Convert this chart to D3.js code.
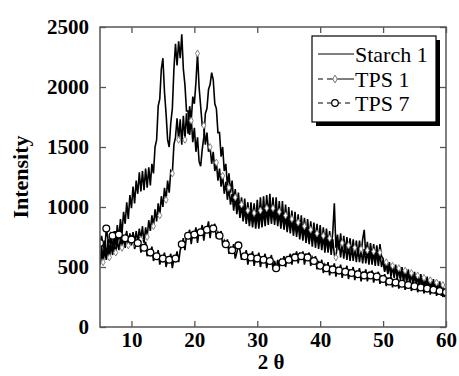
<!DOCTYPE html>
<html>
<head>
<meta charset="utf-8">
<script src="https://cdn.jsdelivr.net/npm/d3@7"></script>
<style>
  body { margin: 0; background: #fff; }
  text { font-family: "Liberation Serif", "Times New Roman", serif; }
</style>
</head>
<body>
<div id="chart"></div>
<script>
// scan: 2 theta from 5 to 60 deg, 0.25 deg step
const thetaStart = 5, thetaStep = 0.25;

const starch1 = [
  520, 680, 560, 720,  580, 730, 610, 760,  640, 800, 680, 850,  730, 900, 780, 960,
  860, 1040, 900, 1100,  990, 1170, 1030, 1220,  1110, 1290, 1130, 1300,  1140, 1320, 1160, 1330,
  1180, 1360, 1280, 1500,  1560, 1840, 1900, 2150,  2240, 1960, 1780, 1560,  1500, 1700, 1820, 2150,
  2360, 2180, 2380, 2240,  2440, 2150, 2020, 1800,  1800, 1600, 1740, 1540,  1660, 1460, 1580, 1380,
  1340, 1480, 1580, 1780,  1820, 1980, 2020, 2120,  2060, 1860, 1820, 1620,  1620, 1420, 1500, 1300,
  1360, 1180, 1280, 1120,  1220, 1040, 1150, 1000,  1120, 960, 1080, 920,  1070, 910, 1040, 880,
  1040, 880, 1030, 870,  1060, 880, 1080, 890,  1090, 900, 1100, 920,  1110, 910, 1080, 890,
  1080, 880, 1050, 860,  1050, 850, 1020, 830,  1000, 820, 970, 800,  960, 790, 940, 780,
  930, 770, 910, 750,  900, 740, 880, 730,  870, 720, 860, 700,  850, 690, 830, 680,
  820, 670, 800, 660,  790, 1030, 660, 770,  640, 780, 630, 760,  620, 750, 610, 740,
  600, 730, 600, 720,  590, 720, 600, 730,  810, 600, 710, 580,  700, 580, 690, 570,
  680, 560, 690, 590,  570, 470, 550, 450,  540, 440, 520, 430,  520, 420, 500, 410,
  500, 400, 480, 390,  480, 380, 460, 370,  460, 360, 440, 350,  440, 340, 420, 330,
  420, 320, 400, 310,  400, 300, 380, 290,  380, 280, 360, 270,  320
];

const tps1 = [
  520, 620, 540, 640,  560, 660, 580, 680,  600, 700, 620, 720,  640, 740, 660, 760,
  660, 770, 680, 780,  680, 790, 700, 800,  710, 820, 730, 840,  700, 830, 750, 890,
  800, 930, 840, 980,  880, 1030, 930, 1090,  1000, 1160, 1060, 1220,  1120, 1300, 1280, 1520,
  1580, 1740, 1560, 1730,  1520, 1760, 1560, 1780,  1610, 1840, 1720, 1920,  1860, 2040, 2280, 2000,
  1840, 1680, 1680, 1520,  1620, 1460, 1500, 1360,  1460, 1300, 1370, 1220,  1320, 1170, 1260, 1110,
  1210, 1060, 1160, 1020,  1110, 970, 1080, 940,  1040, 910, 1020, 880,  990, 860, 970, 840,
  960, 830, 950, 820,  950, 820, 970, 830,  980, 840, 990, 850,  1000, 860, 990, 850,
  980, 840, 960, 820,  950, 810, 930, 790,  910, 780, 900, 760,  880, 750, 870, 730,
  850, 720, 840, 700,  820, 690, 810, 670,  800, 660, 780, 650,  770, 640, 760, 620,
  750, 620, 740, 600,  730, 600, 580, 700,  710, 580, 700, 570,  690, 560, 680, 550,
  670, 550, 660, 540,  660, 540, 650, 530,  650, 530, 640, 520,  640, 520, 630, 510,
  630, 510, 620, 500,  560, 460, 540, 440,  520, 420, 510, 410,  500, 400, 490, 390,
  480, 380, 470, 370,  460, 360, 450, 350,  440, 340, 430, 330,  420, 320, 410, 310,
  400, 300, 390, 290,  380, 280, 370, 270,  360, 260, 350, 250,  290
];

const tps7 = [
  700, 760, 680, 640,  820, 740, 700, 780,  760, 690, 800, 700,  770, 820, 690, 740,
  740, 800, 670, 720,  730, 780, 650, 700,  700, 750, 620, 670,  660, 710, 590, 630,
  620, 670, 550, 600,  590, 640, 520, 570,  570, 620, 500, 560,  560, 610, 490, 570,
  570, 630, 540, 640,  690, 740, 640, 760,  760, 810, 690, 780,  770, 830, 700, 800,
  790, 850, 720, 820,  810, 880, 740, 840,  820, 860, 740, 790,  760, 800, 680, 720,
  690, 730, 610, 660,  640, 690, 570, 620,  680, 640, 560, 600,  590, 640, 520, 590,
  580, 630, 510, 580,  570, 620, 500, 570,  560, 610, 490, 560,  550, 600, 480, 550,
  490, 560, 500, 560,  540, 590, 500, 580,  560, 610, 520, 600,  580, 630, 530, 610,
  590, 630, 520, 600,  580, 620, 510, 580,  550, 590, 480, 550,  510, 560, 450, 520,
  490, 540, 430, 500,  480, 530, 420, 490,  470, 520, 410, 480,  460, 510, 400, 470,
  450, 500, 390, 460,  440, 490, 380, 450,  430, 480, 380, 440,  430, 470, 370, 430,
  420, 460, 360, 420,  400, 440, 340, 400,  380, 420, 330, 380,  370, 410, 320, 370,
  360, 400, 310, 360,  350, 390, 300, 350,  340, 380, 290, 340,  330, 370, 280, 330,
  320, 360, 270, 320,  310, 350, 260, 310,  300, 340, 250, 300,  290
];

const xTicks = [10, 20, 30, 40, 50, 60];
const yTicks = [0, 500, 1000, 1500, 2000, 2500];
const legendNames = ['Starch 1', 'TPS 1', 'TPS 7'];

const W = 459, H = 376;
const margin = {top: 27, right: 13, bottom: 49, left: 100};

const svg = d3.select('#chart').append('svg')
  .attr('width', W)
  .attr('height', H);

const x = d3.scaleLinear().domain([5, 60]).range([margin.left, W - margin.right]);
const y = d3.scaleLinear().domain([0, 2500]).range([H - margin.bottom, margin.top]);

const toPoints = arr => arr.map((v, i) => ({t: thetaStart + i * thetaStep, v: v, i: i}));

const line = d3.line().x(d => x(d.t)).y(d => y(d.v));

svg.append('clipPath').attr('id', 'clip')
  .append('rect')
  .attr('x', margin.left).attr('y', margin.top)
  .attr('width', W - margin.left - margin.right)
  .attr('height', H - margin.top - margin.bottom);

const series = svg.append('g').attr('clip-path', 'url(#clip)');

[starch1, tps1, tps7].forEach(arr => {
  series.append('path')
    .datum(toPoints(arr))
    .attr('d', line)
    .attr('fill', 'none')
    .attr('stroke', '#000')
    .attr('stroke-width', 1.6);
});

const diamond = d3.symbol().type(d3.symbolDiamond).size(14);

series.selectAll('.dia')
  .data(toPoints(tps1).filter(d => d.i % 4 === 2))
  .enter().append('path')
  .attr('class', 'dia')
  .attr('d', diamond)
  .attr('transform', d => `translate(${x(d.t)},${y(d.v)})`)
  .attr('fill', '#fff')
  .attr('stroke', '#777')
  .attr('stroke-width', 0.9);

series.selectAll('.circ')
  .data(toPoints(tps7).filter(d => d.i % 4 === 0))
  .enter().append('circle')
  .attr('class', 'circ')
  .attr('cx', d => x(d.t))
  .attr('cy', d => y(d.v))
  .attr('r', 3.4)
  .attr('fill', '#fff')
  .attr('stroke', '#000')
  .attr('stroke-width', 1.3);

// axes, ticks pointing inward
const frameColor = '#555';
const fontCss = 'bold 21px "Liberation Serif", serif';
const fmt = d3.format('d');

const gx = svg.append('g')
  .attr('transform', `translate(0,${H - margin.bottom})`)
  .call(d3.axisBottom(x).tickValues(xTicks).tickFormat(fmt).tickSizeInner(-6).tickSizeOuter(0).tickPadding(5));
const gxTop = svg.append('g')
  .attr('transform', `translate(0,${margin.top})`)
  .call(d3.axisTop(x).tickValues(xTicks).tickSizeInner(-6).tickSizeOuter(0).tickFormat(''));
const gy = svg.append('g')
  .attr('transform', `translate(${margin.left},0)`)
  .call(d3.axisLeft(y).tickValues(yTicks).tickFormat(fmt).tickSizeInner(-6).tickSizeOuter(0).tickPadding(11));
const gyRight = svg.append('g')
  .attr('transform', `translate(${W - margin.right},0)`)
  .call(d3.axisRight(y).tickValues(yTicks).tickSizeInner(-6).tickSizeOuter(0).tickFormat(''));

[gx, gxTop, gy, gyRight].forEach(g => {
  g.select('.domain').remove();
  g.selectAll('line').attr('stroke', frameColor).attr('stroke-width', 1.3);
  g.selectAll('text').attr('fill', '#000').style('font', fontCss);
});
gy.selectAll('text').attr('dy', '0.3em');

svg.append('rect')
  .attr('x', margin.left).attr('y', margin.top)
  .attr('width', W - margin.left - margin.right)
  .attr('height', H - margin.top - margin.bottom)
  .attr('fill', 'none')
  .attr('stroke', frameColor)
  .attr('stroke-width', 1.5);

svg.append('text')
  .attr('transform', `translate(28,${(margin.top + H - margin.bottom) / 2}) rotate(-90)`)
  .attr('text-anchor', 'middle')
  .style('font', 'bold 22px "Liberation Serif", serif')
  .text('Intensity');

svg.append('text')
  .attr('x', 271).attr('y', 369)
  .attr('text-anchor', 'middle')
  .style('font', fontCss)
  .text('2 \u03b8');

// legend
const lg = svg.append('g');
lg.append('rect')
  .attr('x', 316).attr('y', 40).attr('width', 124).attr('height', 86)
  .attr('fill', '#000');
lg.append('rect')
  .attr('x', 312).attr('y', 36).attr('width', 124).attr('height', 86)
  .attr('fill', '#fff').attr('stroke', '#000').attr('stroke-width', 1.2);

const rowY = [54, 79, 103];
legendNames.forEach((name, i) => {
  lg.append('text')
    .attr('x', 355).attr('y', rowY[i] + 8)
    .style('font', '22px "Liberation Serif", serif')
    .text(name);
});
lg.append('line')
  .attr('x1', 318).attr('x2', 354).attr('y1', rowY[0]).attr('y2', rowY[0])
  .attr('stroke', '#000').attr('stroke-width', 1);
lg.append('line')
  .attr('x1', 318).attr('x2', 354).attr('y1', rowY[1]).attr('y2', rowY[1])
  .attr('stroke', '#000').attr('stroke-width', 1).attr('stroke-dasharray', '5,4,27');
lg.append('path')
  .attr('d', d3.symbol().type(d3.symbolDiamond).size(18))
  .attr('transform', `translate(335,${rowY[1]})`)
  .attr('fill', '#fff').attr('stroke', '#777').attr('stroke-width', 1);
lg.append('line')
  .attr('x1', 318).attr('x2', 352).attr('y1', rowY[2]).attr('y2', rowY[2])
  .attr('stroke', '#000').attr('stroke-width', 1).attr('stroke-dasharray', '5,4');
lg.append('circle')
  .attr('cx', 335).attr('cy', rowY[2]).attr('r', 3.3)
  .attr('fill', '#fff').attr('stroke', '#000').attr('stroke-width', 1.2);
</script>
</body>
</html>
